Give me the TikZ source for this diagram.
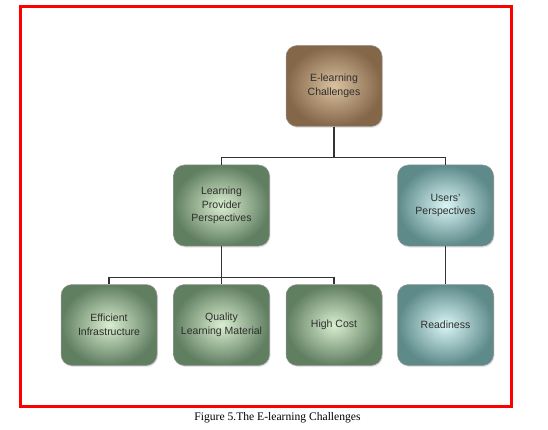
\documentclass[tikz,border=0pt]{standalone}
\usepackage{fontspec}
\setmainfont{Liberation Serif}
\setsansfont{Liberation Sans}
\usetikzlibrary{positioning,shadows}
\definecolor{brownin}{RGB}{218,194,160}
\definecolor{brownout}{RGB}{132,102,72}
\definecolor{greenin}{RGB}{218,238,208}
\definecolor{greenout}{RGB}{96,126,96}
\definecolor{tealin}{RGB}{218,246,246}
\definecolor{tealout}{RGB}{94,138,138}

\begin{document}
\begin{tikzpicture}[x=1pt,y=-1pt,node distance=38pt and 16pt,
  box/.style={rounded corners=11pt,align=center,font=\sffamily\fontsize{10.5}{13.7}\selectfont,
    text=black!82,minimum width=96pt,minimum height=81pt,inner sep=1pt,draw=black!40,line width=0.5pt,
    drop shadow={shadow xshift=1pt,shadow yshift=-1.5pt,opacity=0.2}},
  brownbox/.style={box,inner color=brownin,outer color=brownout},
  greenbox/.style={box,inner color=greenin,outer color=greenout},
  tealbox/.style={box,inner color=tealin,outer color=tealout},
  link/.style={draw=black!80,line width=1.1pt}]
\useasboundingbox (0,0) rectangle (548,430);
\draw[red,line width=3pt] (20.5,6.5) rectangle (511.3,406.3);
\node[brownbox] (elc) at (334,86) {E-learning\\Challenges};
\node[greenbox,below left=38pt and 16pt of elc] (lpp) {Learning\\Provider\\Perspectives};
\node[greenbox,below=of lpp] (qlm) {Quality\\Learning Material};
\node[greenbox,left=of qlm] (eff) {Efficient\\Infrastructure};
\node[greenbox,right=of qlm] (cost) {High Cost};
\node[tealbox,right=15pt of cost] (rdy) {Readiness};
\node[tealbox,above=of rdy] (usr) {Users'\\Perspectives};
\node[font=\fontsize{11.6}{13}\selectfont] (cap) at (277.5,417.5) {Figure 5.The E-learning Challenges};
\draw[link] (elc.south) -- ++(0,-31pt) -| (lpp.north);
\draw[link] (elc.south) -- ++(0,-31pt) -| (usr.north);
\draw[link] (lpp.south) -- ++(0,-31pt) -| (eff.north);
\draw[link] (lpp.south) -- (qlm.north);
\draw[link] (lpp.south) -- ++(0,-31pt) -| (cost.north);
\draw[link] (usr.south) -- (rdy.north);
\end{tikzpicture}
\end{document}
